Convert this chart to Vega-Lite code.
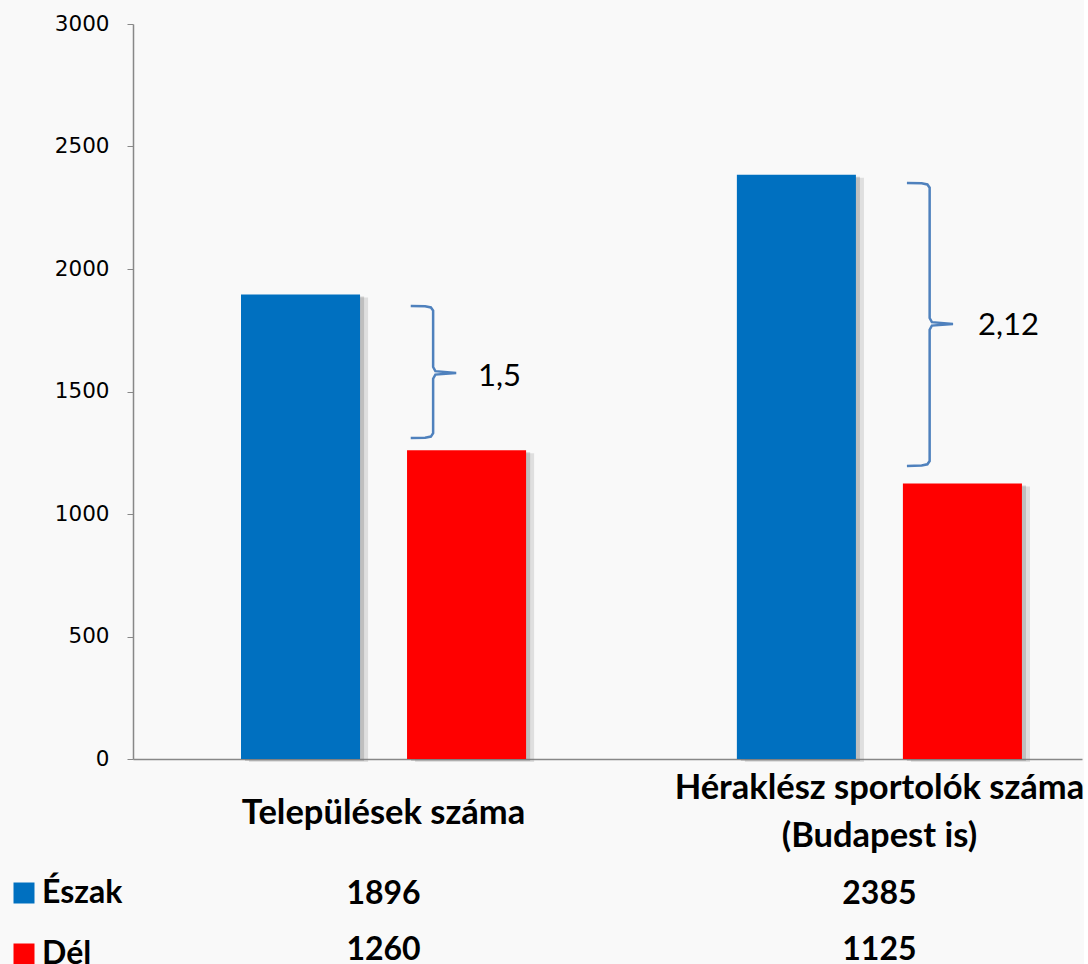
{
  "$schema": "https://vega.github.io/schema/vega-lite/v6.json",
  "autosize": {"type": "pad"},
  "padding": {"left": 8, "top": 13, "right": 0, "bottom": 0},
  "background": "#f9f9f9",
  "bounds": "flush",
  "spacing": 107,
  "config": {"view": {"stroke": null}, "font": "Lato"},
  "datasets": {
    "bars": [
      {"kategoria": "Települések száma", "regio": "Észak", "ertek": 1896},
      {"kategoria": "Települések száma", "regio": "Dél", "ertek": 1260},
      {"kategoria": "Héraklész sportolók száma\n(Budapest is)", "regio": "Észak", "ertek": 2385},
      {"kategoria": "Héraklész sportolók száma\n(Budapest is)", "regio": "Dél", "ertek": 1125}
    ],
    "braces": [
      {"kategoria": "Települések száma", "sorrend": 1, "hely": 0.585, "ertek": 1849},
      {"kategoria": "Települések száma", "sorrend": 2, "hely": 0.63, "ertek": 1848},
      {"kategoria": "Települések száma", "sorrend": 3, "hely": 0.648, "ertek": 1843},
      {"kategoria": "Települések száma", "sorrend": 4, "hely": 0.655, "ertek": 1830},
      {"kategoria": "Települések száma", "sorrend": 5, "hely": 0.655, "ertek": 1600},
      {"kategoria": "Települések száma", "sorrend": 6, "hely": 0.662, "ertek": 1583},
      {"kategoria": "Települések száma", "sorrend": 7, "hely": 0.727, "ertek": 1576},
      {"kategoria": "Települések száma", "sorrend": 8, "hely": 0.662, "ertek": 1569},
      {"kategoria": "Települések száma", "sorrend": 9, "hely": 0.655, "ertek": 1552},
      {"kategoria": "Települések száma", "sorrend": 10, "hely": 0.655, "ertek": 1330},
      {"kategoria": "Települések száma", "sorrend": 11, "hely": 0.648, "ertek": 1316},
      {"kategoria": "Települések száma", "sorrend": 12, "hely": 0.63, "ertek": 1311},
      {"kategoria": "Települések száma", "sorrend": 13, "hely": 0.585, "ertek": 1310},
      {"kategoria": "Héraklész sportolók száma\n(Budapest is)", "sorrend": 1, "hely": 0.586, "ertek": 2351},
      {"kategoria": "Héraklész sportolók száma\n(Budapest is)", "sorrend": 2, "hely": 0.632, "ertek": 2350},
      {"kategoria": "Héraklész sportolók száma\n(Budapest is)", "sorrend": 3, "hely": 0.65, "ertek": 2345},
      {"kategoria": "Héraklész sportolók száma\n(Budapest is)", "sorrend": 4, "hely": 0.657, "ertek": 2332},
      {"kategoria": "Héraklész sportolók száma\n(Budapest is)", "sorrend": 5, "hely": 0.657, "ertek": 1800},
      {"kategoria": "Héraklész sportolók száma\n(Budapest is)", "sorrend": 6, "hely": 0.664, "ertek": 1783},
      {"kategoria": "Héraklész sportolók száma\n(Budapest is)", "sorrend": 7, "hely": 0.73, "ertek": 1776},
      {"kategoria": "Héraklész sportolók száma\n(Budapest is)", "sorrend": 8, "hely": 0.664, "ertek": 1769},
      {"kategoria": "Héraklész sportolók száma\n(Budapest is)", "sorrend": 9, "hely": 0.657, "ertek": 1752},
      {"kategoria": "Héraklész sportolók száma\n(Budapest is)", "sorrend": 10, "hely": 0.657, "ertek": 1216},
      {"kategoria": "Héraklész sportolók száma\n(Budapest is)", "sorrend": 11, "hely": 0.65, "ertek": 1203},
      {"kategoria": "Héraklész sportolók száma\n(Budapest is)", "sorrend": 12, "hely": 0.632, "ertek": 1198},
      {"kategoria": "Héraklész sportolók száma\n(Budapest is)", "sorrend": 13, "hely": 0.586, "ertek": 1196}
    ],
    "ratios": [
      {"kategoria": "Települések száma", "arany": "1,5", "hely": 0.795, "ertek": 1561},
      {"kategoria": "Héraklész sportolók száma\n(Budapest is)", "arany": "2,12", "hely": 0.808, "ertek": 1767}
    ]
  },
  "vconcat": [
    {
      "width": 949,
      "height": 735,
      "encoding": {
        "x": {
          "field": "kategoria",
          "type": "nominal",
          "sort": ["Települések száma", "Héraklész sportolók száma\n(Budapest is)"],
          "scale": {"type": "band", "paddingInner": 0.3548, "paddingOuter": 0.1343, "align": 0.68, "round": false},
          "axis": {
            "title": null,
            "labelAngle": 0,
            "ticks": false,
            "tickSize": 0,
            "labelPadding": {"condition": {"test": "indexof(datum.value, '\\n') >= 0", "value": 29}, "value": 54},
            "labelBaseline": "middle",
            "labelExpr": "split(datum.label, '\\n')",
            "labelLineHeight": 48,
            "labelFont": "Lato",
            "labelFontSize": 34.5,
            "labelFontWeight": "bold",
            "labelColor": "#000000",
            "labelLimit": 0,
            "domainColor": "#888888",
            "domainWidth": 1.5
          }
        },
        "y": {
          "field": "ertek",
          "type": "quantitative",
          "scale": {"domain": [0, 3000], "nice": false},
          "axis": {
            "title": null,
            "values": [0, 500, 1000, 1500, 2000, 2500, 3000],
            "format": "d",
            "grid": false,
            "labelFont": "DejaVu Sans",
            "labelFontSize": 21.5,
            "labelColor": "#000000",
            "labelPadding": 18,
            "tickSize": 6,
            "tickColor": "#888888",
            "domainColor": "#888888",
            "domainWidth": 1.5
          }
        }
      },
      "layer": [
        {
          "data": {"name": "bars"},
          "mark": {"type": "bar", "color": "#777777", "opacity": 0.2, "yOffset": 3},
          "encoding": {
            "xOffset": {"field": "regio", "type": "nominal", "sort": ["Észak", "Dél"], "scale": {"paddingInner": 0.283, "paddingOuter": 0.105, "range": [8, 328]}}
          }
        },
        {
          "data": {"name": "bars"},
          "mark": {"type": "bar", "color": "#777777", "opacity": 0.3, "yOffset": 2},
          "encoding": {
            "xOffset": {"field": "regio", "type": "nominal", "sort": ["Észak", "Dél"], "scale": {"paddingInner": 0.283, "paddingOuter": 0.105, "range": [4, 324]}}
          }
        },
        {
          "data": {"name": "bars"},
          "mark": {"type": "bar"},
          "encoding": {
            "xOffset": {"field": "regio", "type": "nominal", "sort": ["Észak", "Dél"], "scale": {"paddingInner": 0.283, "paddingOuter": 0.105}},
            "color": {
              "field": "regio",
              "type": "nominal",
              "sort": ["Észak", "Dél"],
              "scale": {"domain": ["Észak", "Dél"], "range": ["#0070C0", "#FF0000"]},
              "legend": {
                "orient": "none",
                "legendX": -125,
                "legendY": 853,
                "title": null,
                "symbolType": "square",
                "symbolSize": 441,
                "symbolStrokeWidth": 0,
                "symbolOpacity": 1,
                "labelFont": "Lato",
                "labelFontSize": 32,
                "labelFontWeight": "bold",
                "labelColor": "#000000",
                "labelOffset": 2,
                "rowPadding": 29,
                "padding": 0
              }
            }
          }
        },
        {
          "data": {"name": "braces"},
          "mark": {"type": "line", "color": "#4F81BD", "strokeWidth": 2.5},
          "encoding": {
            "xOffset": {"field": "hely", "type": "quantitative", "scale": {"domain": [0, 1], "nice": false, "zero": false}},
            "detail": {"field": "kategoria"},
            "order": {"field": "sorrend", "type": "quantitative"}
          }
        },
        {
          "data": {"name": "ratios"},
          "mark": {"type": "text", "align": "left", "baseline": "middle", "font": "Lato", "fontSize": 31, "color": "#000000"},
          "encoding": {
            "xOffset": {"field": "hely", "type": "quantitative", "scale": {"domain": [0, 1], "nice": false, "zero": false}},
            "text": {"field": "arany"}
          }
        }
      ],
      "resolve": {"scale": {"xOffset": "independent"}}
    },
    {
      "width": 949,
      "height": 112,
      "data": {"name": "bars"},
      "mark": {"type": "text", "font": "Lato", "fontSize": 32, "fontWeight": "bold", "color": "#000000", "baseline": "middle"},
      "encoding": {
        "x": {
          "field": "kategoria",
          "type": "nominal",
          "sort": ["Települések száma", "Héraklész sportolók száma\n(Budapest is)"],
          "scale": {"type": "band", "paddingInner": 0.3548, "paddingOuter": 0.1343, "align": 0.68, "round": false},
          "axis": null
        },
        "y": {
          "field": "regio",
          "type": "nominal",
          "sort": ["Észak", "Dél"],
          "scale": {"type": "band", "paddingInner": 0, "paddingOuter": 0, "round": false},
          "axis": null
        },
        "text": {"field": "ertek", "type": "quantitative", "format": "d"}
      }
    }
  ]
}
